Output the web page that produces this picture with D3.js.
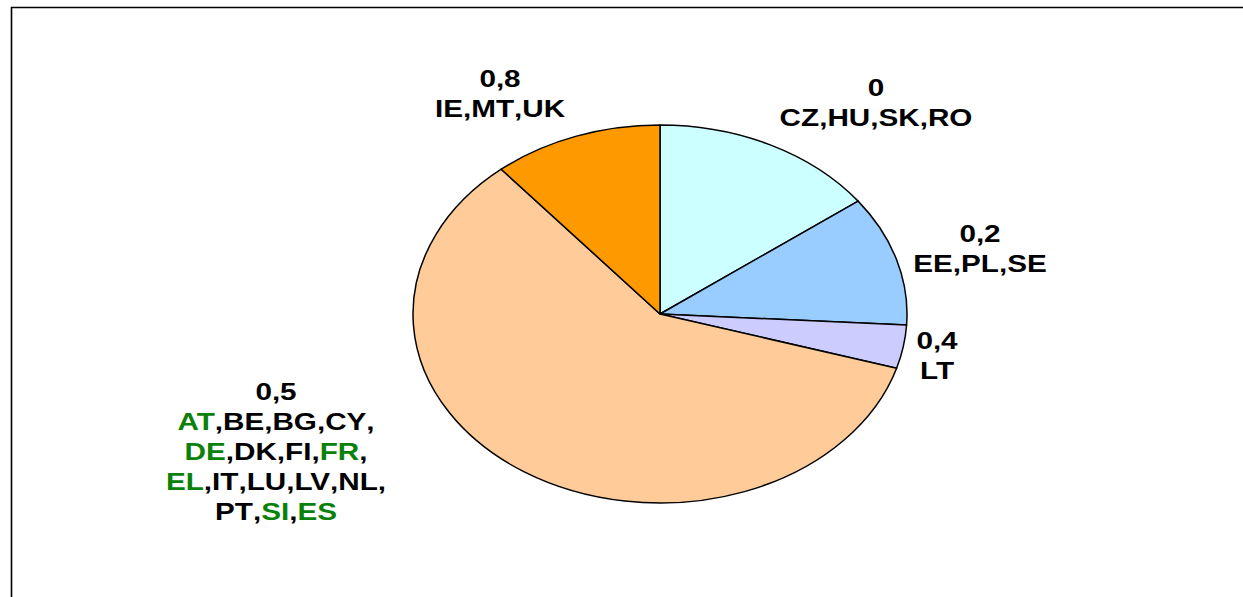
<!DOCTYPE html>
<html>
<head>
<meta charset="utf-8">
<script src="https://cdn.jsdelivr.net/npm/d3@7"></script>
<style>
  html, body { margin: 0; padding: 0; background: #fff; }
  #chart { width: 1243px; height: 597px; }
</style>
</head>
<body>
<div id="chart"></div>
<script>
// rate categories, how many countries in each, slice colours
const rates = ["0", "0,2", "0,4", "0,5", "0,8"];
const counts = [4, 3, 1, 16, 3];
const sliceColors = ["#CCFFFF", "#99CCFF", "#CCCCFF", "#FFCC99", "#FF9900"];

// country label lines per rate
const countryLines = [
  [["CZ", "HU", "SK", "RO"]],
  [["EE", "PL", "SE"]],
  [["LT"]],
  [["AT", "BE", "BG", "CY"], ["DE", "DK", "FI", "FR"], ["EL", "IT", "LU", "LV", "NL"], ["PT", "SI", "ES"]],
  [["IE", "MT", "UK"]],
];
const greenCountries = ["AT", "DE", "FR", "EL", "SI", "ES"];

// label anchor (centre x, first baseline y)
const labelPos = [
  [876, 96],
  [980, 242],
  [937, 349],
  [276, 400],
  [500, 87],
];

const width = 1243, height = 597;
const cx = 660, cy = 314, ry = 189, rx = 247;
const sx = rx / ry;
const lineH = 30;
const textStretch = 1.29;

const svg = d3.select("#chart")
  .append("svg")
  .attr("width", width)
  .attr("height", height);

// frame (right and bottom edges fall outside the picture)
svg.append("path")
  .attr("d", `M11.5,${height}V7.5H${width}`)
  .attr("fill", "none")
  .attr("stroke", "#000")
  .attr("stroke-width", 1.6);

const pie = d3.pie().sort(null).value((d) => d);
const arc = d3.arc().innerRadius(0).outerRadius(ry);

const pieG = svg.append("g")
  .attr("transform", `translate(${cx},${cy}) scale(${sx},1)`);

pieG.selectAll("path")
  .data(pie(counts))
  .enter()
  .append("path")
  .attr("d", arc)
  .attr("fill", (d, i) => sliceColors[i])
  .attr("stroke", "#000")
  .attr("stroke-width", 1.5)
  .attr("vector-effect", "non-scaling-stroke")
  .attr("stroke-linejoin", "round");

// labels
rates.forEach((rate, i) => {
  const [lx, ly] = labelPos[i];
  const g = svg.append("g")
    .attr("transform", `translate(${lx},${ly}) scale(${textStretch},1)`);

  const lines = [[{ t: rate, c: "#000" }]];
  countryLines[i].forEach((codes, li) => {
    const parts = [];
    codes.forEach((code, k) => {
      parts.push({ t: code, c: greenCountries.includes(code) ? "#0a820a" : "#000" });
      const last = k === codes.length - 1 && li === countryLines[i].length - 1;
      if (!last) parts.push({ t: ",", c: "#000" });
    });
    lines.push(parts);
  });

  lines.forEach((parts, li) => {
    const t = g.append("text")
      .attr("x", 0)
      .attr("y", li * lineH)
      .attr("text-anchor", "middle")
      .attr("font-family", "Liberation Sans, Arial, sans-serif")
      .attr("font-weight", "bold")
      .attr("font-size", "23px");
    parts.forEach((p) => {
      t.append("tspan").attr("fill", p.c).text(p.t);
    });
  });
});
</script>
</body>
</html>
